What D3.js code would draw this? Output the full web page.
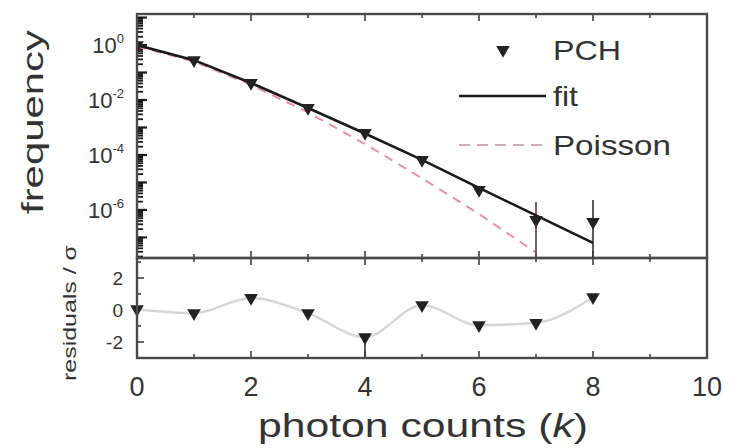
<!DOCTYPE html>
<html><head><meta charset="utf-8">
<script src="https://cdn.jsdelivr.net/npm/d3@7"></script>
<style>body{margin:0;background:#fff}svg{display:block}text{font-family:"Liberation Sans",Arial,sans-serif;fill:#333}</style>
</head><body><svg id="c" width="731" height="448"></svg>
<script>
// ---- data ----
const k = [0,1,2,3,4,5,6,7,8];
const pchLog = [0.0,-0.55,-1.38,-2.29,-3.2,-4.18,-5.27,-6.36,-6.44];   // log10 frequency
const pchErrUpLog = [null,null,null,null,null,null,null,-5.71,-5.64];
const fitLog = [0.0,-0.55,-1.38,-2.29,-3.22,-4.18,-5.2,-6.2,-7.2];
const poissonLog = [-0.05,-0.6,-1.45,-2.45,-3.6,-4.85,-6.15,-7.55];
const residuals = [0.05,-0.2,0.75,-0.2,-1.7,0.3,-0.95,-0.8,0.8];
const residErrLow = [null,null,null,null,-2.9,null,null,null,null];
const xTicks = [0,2,4,6,8,10];
const yTickExp = [0,-2,-4,-6];
const rTicks = [2,0,-2];
const legendItems = ["PCH","fit","Poisson"];

const svg = d3.select("#c");
const L=137,R=707,T=14,M=258,B=358;
const x = d3.scaleLinear().domain([0,10]).range([L,R]);
const y = d3.scaleLog().domain([Math.pow(10,-7.75),Math.pow(10,1.13)]).range([M,T]);
const yr = d3.scaleLinear().domain([-3,3.25]).range([B,M]);
const frame="#4a4a4a";

svg.append("defs").append("clipPath").attr("id","cp").append("rect")
  .attr("x",L).attr("y",T).attr("width",R-L).attr("height",M-T);

// minor/major ticks on log axis
const tg = svg.append("g");
for(let e=-8;e<=1;e++){
  for(let m=1;m<10;m++){
    const v=m*Math.pow(10,e);
    const yy=y(v);
    if(yy<T+1||yy>M-1) continue;
    const major = (m===1);
    tg.append("line").attr("x1",L).attr("x2",L+(major?10:6)).attr("y1",yy).attr("y2",yy)
      .attr("stroke","#1a1a1a").attr("stroke-width",major?2.2:1.8);
  }
}
// x ticks on panel edges
d3.range(0,11).forEach(v=>{
  const len = v%2===0?7:4;
  [[T,1],[M,-1],[M,1],[B,-1]].forEach(([yy,dir])=>{
    tg.append("line").attr("x1",x(v)).attr("x2",x(v)).attr("y1",yy).attr("y2",yy+dir*len)
      .attr("stroke","#333").attr("stroke-width",1.5);
  });
});
// residual y ticks
d3.range(-3,4).forEach(v=>{
  const yy=yr(v); if(yy<=M+1) return;
  tg.append("line").attr("x1",L).attr("x2",L+(v%2===0?7:4)).attr("y1",yy).attr("y2",yy)
    .attr("stroke","#333").attr("stroke-width",1.5);
});

// top panel data
const gp = svg.append("g").attr("clip-path","url(#cp)");
gp.append("path").datum(poissonLog.map((v,i)=>[k[i],v]))
  .attr("d",d3.line().x(d=>x(d[0])).y(d=>y(Math.pow(10,d[1]))))
  .attr("fill","none").attr("stroke","#e393a6").attr("stroke-width",2).attr("stroke-dasharray","9,7");
// error bars
pchErrUpLog.forEach((v,i)=>{
  if(v===null) return;
  gp.append("line").attr("x1",x(k[i])).attr("x2",x(k[i]))
    .attr("y1",y(Math.pow(10,v))).attr("y2",M+5)
    .attr("stroke",i===7?"#5a3a44":"#333").attr("stroke-width",1.6);
});
gp.append("path").datum(fitLog.map((v,i)=>[k[i],v]))
  .attr("d",d3.line().x(d=>x(d[0])).y(d=>y(Math.pow(10,d[1]))))
  .attr("fill","none").attr("stroke","#1a1a1a").attr("stroke-width",2.6);
const tri = d3.symbol().type(d3.symbolTriangle).size(80);
pchLog.forEach((v,i)=>{
  gp.append("path").attr("d",tri()).attr("fill","#222")
    .attr("transform",`translate(${x(k[i])},${y(Math.pow(10,v))}) rotate(180)`);
});

// residual panel
svg.append("path").datum(residuals.map((v,i)=>[k[i],v]))
  .attr("d",d3.line().curve(d3.curveMonotoneX).x(d=>x(d[0])).y(d=>yr(d[1])))
  .attr("fill","none").attr("stroke","#d6d6d6").attr("stroke-width",2.4);
residErrLow.forEach((v,i)=>{
  if(v===null) return;
  svg.append("line").attr("x1",x(k[i])).attr("x2",x(k[i])).attr("y1",yr(residuals[i])).attr("y2",yr(v))
    .attr("stroke","#333").attr("stroke-width",1.6);
});
residuals.forEach((v,i)=>{
  svg.append("path").attr("d",tri()).attr("fill","#222")
    .attr("transform",`translate(${x(k[i])},${yr(v)}) rotate(180)`);
});

// frames
svg.append("rect").attr("x",L).attr("y",T).attr("width",R-L).attr("height",M-T)
  .attr("fill","none").attr("stroke",frame).attr("stroke-width",2.4);
svg.append("rect").attr("x",L).attr("y",M).attr("width",R-L).attr("height",B-M)
  .attr("fill","none").attr("stroke",frame).attr("stroke-width",2.4);

// tick labels
xTicks.forEach(v=>{
  svg.append("text").attr("x",x(v)).attr("y",396).attr("text-anchor","middle")
    .attr("font-size",27).text(v);
});
yTickExp.forEach(e=>{
  const t=svg.append("text").attr("x",124).attr("y",y(Math.pow(10,e))+8).attr("text-anchor","end").attr("font-size",22);
  t.append("tspan").text("10");
  t.append("tspan").attr("dy",-10).attr("font-size",13).text(e);
});
rTicks.forEach(v=>{
  svg.append("text").attr("x",123).attr("y",yr(v)+7).attr("text-anchor","end").attr("font-size",19)
    .text(v<0?"-"+Math.abs(v):v);
});

// axis titles
svg.append("text").attr("transform","translate(43,122) rotate(-90)").attr("text-anchor","middle")
  .attr("font-size",30).attr("textLength",184).attr("lengthAdjust","spacingAndGlyphs").text("frequency");
svg.append("text").attr("transform","translate(76,313) rotate(-90)").attr("text-anchor","middle")
  .attr("font-size",18).attr("textLength",136).attr("lengthAdjust","spacingAndGlyphs").text("residuals / σ");
const xt=svg.append("text").attr("x",423).attr("y",437).attr("text-anchor","middle").attr("font-size",33)
  .attr("textLength",330).attr("lengthAdjust","spacingAndGlyphs");
xt.append("tspan").text("photon counts (");
xt.append("tspan").attr("font-style","italic").text("k");
xt.append("tspan").text(")");

// legend
const lx=553;
svg.append("path").attr("d",tri()).attr("fill","#222").attr("transform","translate(503,50) rotate(180)");
svg.append("line").attr("x1",459).attr("x2",546).attr("y1",96).attr("y2",96).attr("stroke","#1a1a1a").attr("stroke-width",2.6);
svg.append("line").attr("x1",459).attr("x2",546).attr("y1",145).attr("y2",145).attr("stroke","#c9b0b6").attr("stroke-width",2).attr("stroke-dasharray","11,7");
const lw=[68,25,118];
legendItems.forEach((s,i)=>{
  svg.append("text").attr("x",lx).attr("y",[60,106,155][i]).attr("font-size",28)
    .attr("textLength",lw[i]).attr("lengthAdjust","spacingAndGlyphs").text(s);
});
</script></body></html>
